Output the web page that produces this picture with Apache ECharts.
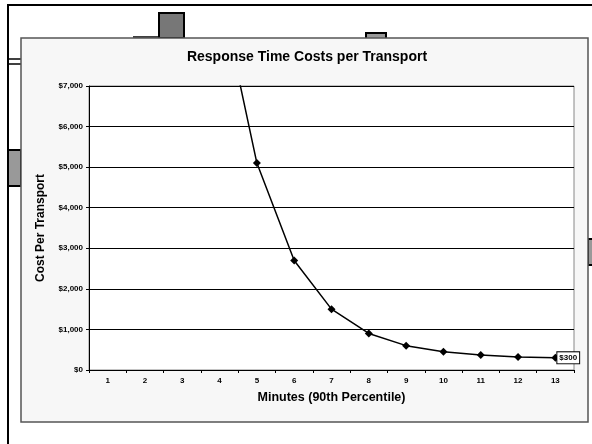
<!DOCTYPE html>
<html>
<head>
<meta charset="utf-8">
<style>
  html, body { margin: 0; padding: 0; background: #fff; }
  #chart { width: 592px; height: 444px; }
</style>
<script src="https://cdn.jsdelivr.net/npm/echarts@6/dist/echarts.min.js"></script>
</head>
<body>
<div id="chart"></div>
<script>
// minutes on the x axis
var minutes = ['1', '2', '3', '4', '5', '6', '7', '8', '9', '10', '11', '12', '13'];
// cost per transport, the point at 4 minutes runs off the top of the chart
var costs = [null, null, null, 9400, 5100, 2700, 1500, 900, 600, 450, 370, 320, 300];
var yTicks = [0, 1000, 2000, 3000, 4000, 5000, 6000, 7000];

var font = 'Arial, "Liberation Sans", sans-serif';

var chart = echarts.init(document.getElementById('chart'));

// last point gets the boxed value label
var seriesData = costs.map(function (v, i) {
  if (i === costs.length - 1) {
    return {
      value: v,
      label: {
        show: true,
        position: 'right',
        distance: -2,
        formatter: function (p) { return '$' + p.value; },
        fontFamily: font,
        fontSize: 8,
        fontWeight: 'bold',
        color: '#000',
        backgroundColor: '#fff',
        borderColor: '#000',
        borderWidth: 1,
        padding: [2, 2, 1, 2]
      }
    };
  }
  return v;
});

chart.setOption({
  animation: false,
  backgroundColor: '#fff',
  graphic: [
    // bits of the sheet behind the chart
    { type: 'line', z: -3, shape: { x1: 7, y1: 5, x2: 592, y2: 5 }, style: { stroke: '#000', lineWidth: 2 } },
    { type: 'line', z: -3, shape: { x1: 8, y1: 5, x2: 8, y2: 444 }, style: { stroke: '#000', lineWidth: 2 } },
    { type: 'line', z: -3, shape: { x1: 133, y1: 37, x2: 159, y2: 37 }, style: { stroke: '#000', lineWidth: 1.5 } },
    { type: 'rect', z: -3, shape: { x: 159, y: 13, width: 25, height: 25 }, style: { fill: '#777', stroke: '#000', lineWidth: 2 } },
    { type: 'rect', z: -3, shape: { x: 366, y: 33, width: 20, height: 8 }, style: { fill: '#999', stroke: '#000', lineWidth: 2 } },
    { type: 'line', z: -3, shape: { x1: 7, y1: 59, x2: 21, y2: 59 }, style: { stroke: '#000', lineWidth: 1.5 } },
    { type: 'line', z: -3, shape: { x1: 7, y1: 64, x2: 21, y2: 64 }, style: { stroke: '#000', lineWidth: 1.5 } },
    { type: 'rect', z: -3, shape: { x: 8, y: 150, width: 13, height: 36 }, style: { fill: '#999', stroke: '#000', lineWidth: 2 } },
    { type: 'rect', z: -3, shape: { x: 588, y: 239, width: 6, height: 26 }, style: { fill: '#999', stroke: '#000', lineWidth: 2 } },
    // the chart panel
    { type: 'rect', z: -2, shape: { x: 21, y: 38, width: 567, height: 384 }, style: { fill: '#f7f7f7', stroke: '#555', lineWidth: 1.5 } }
  ],
  title: {
    text: 'Response Time Costs per Transport',
    left: 302,
    top: 45,
    textAlign: 'center',
    textStyle: { fontFamily: font, fontSize: 14, fontWeight: 'bold', color: '#000' }
  },
  grid: {
    left: 89, right: 18, top: 86, bottom: 74,
    show: true,
    backgroundColor: '#fff',
    borderColor: '#888',
    borderWidth: 1
  },
  xAxis: {
    type: 'category',
    data: minutes,
    boundaryGap: true,
    name: 'Minutes (90th Percentile)',
    nameLocation: 'middle',
    nameGap: 21,
    nameTextStyle: { fontFamily: font, fontSize: 12.5, fontWeight: 'bold', color: '#000' },
    axisLine: { lineStyle: { color: '#000', width: 1 } },
    axisTick: { show: true, inside: false, length: 3, alignWithLabel: false, lineStyle: { color: '#000' } },
    axisLabel: { fontFamily: font, fontSize: 8, fontWeight: 'bold', color: '#000', margin: 7 },
    splitLine: { show: false }
  },
  yAxis: {
    type: 'value',
    min: yTicks[0],
    max: yTicks[yTicks.length - 1],
    interval: 1000,
    name: 'Cost Per Transport',
    nameLocation: 'middle',
    nameGap: 42,
    nameTextStyle: { fontFamily: font, fontSize: 12, fontWeight: 'bold', color: '#000' },
    axisLine: { show: true, lineStyle: { color: '#000', width: 1 } },
    axisTick: { show: true, length: 3, lineStyle: { color: '#000' } },
    axisLabel: {
      fontFamily: font, fontSize: 8, fontWeight: 'bold', color: '#000', margin: 6,
      formatter: function (v) { return '$' + v.toLocaleString('en-US'); }
    },
    splitLine: { show: true, lineStyle: { color: '#000', width: 1 } }
  },
  series: [{
    type: 'line',
    data: seriesData,
    clip: true,
    connectNulls: false,
    symbol: 'diamond',
    symbolSize: 8,
    itemStyle: { color: '#000' },
    lineStyle: { color: '#000', width: 1.5 }
  }]
});
</script>
</body>
</html>
